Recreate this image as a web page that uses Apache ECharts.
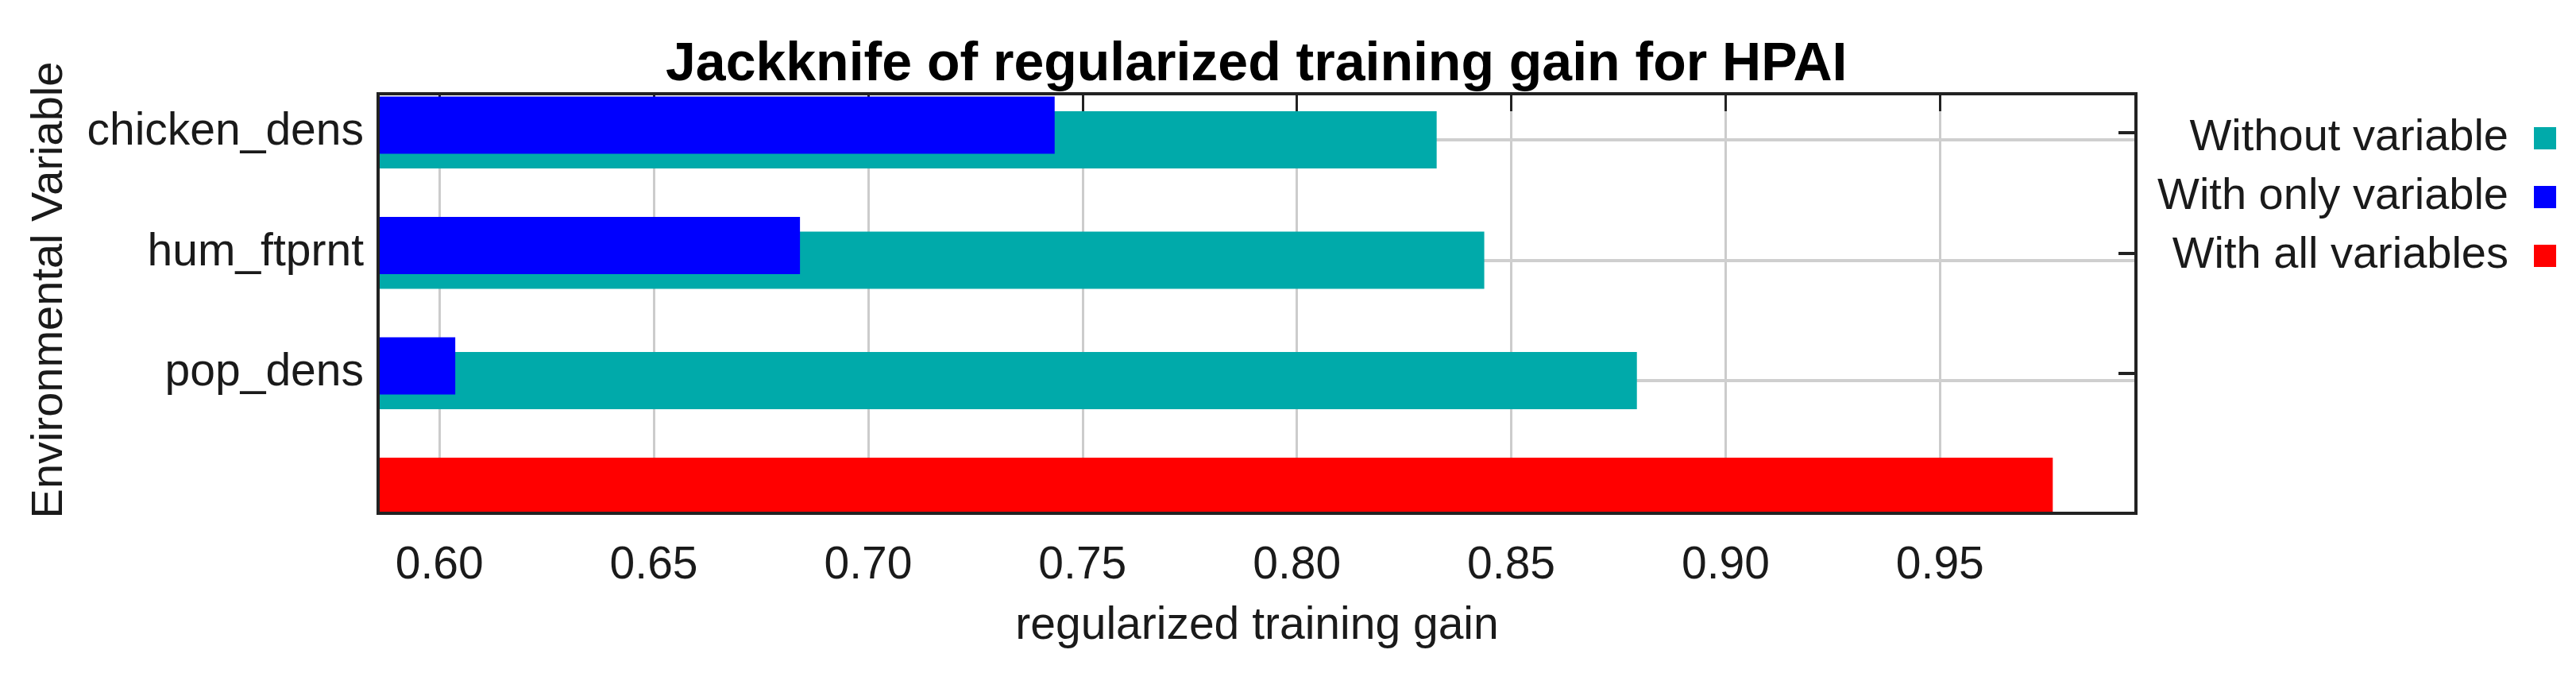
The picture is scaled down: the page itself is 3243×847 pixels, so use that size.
<!DOCTYPE html>
<html>
<head>
<meta charset="utf-8">
<title>Jackknife of regularized training gain for HPAI</title>
<script src="https://cdn.jsdelivr.net/npm/echarts@6/dist/echarts.min.js"></script>
<style>
  html, body { margin: 0; padding: 0; background: #fff; }
</style>
</head>
<body>
<div id="main" style="width:3243px;height:847px;"></div>
<script>
// values
const variables = ['chicken_dens', 'hum_ftprnt', 'pop_dens'];
const withoutVariable = [0.8326, 0.8437, 0.8793];
const withOnlyVariable = [0.7435, 0.6841, 0.6037];
const withAllVariables = 0.9763;
const legendNames = ['Without variable', 'With only variable', 'With all variables'];
const gainMin = 0.5857;
const gainMax = 0.9957;

const font = 'Liberation Sans';
const cats = variables.concat(['']);   // last row = all variables

let myChart = echarts.init(document.getElementById('main'));

let option = {
  backgroundColor: '#ffffff',
  animation: false,
  title: {
    text: 'Jackknife of regularized training gain for HPAI',
    left: 833,
    top: 43,
    textStyle: { fontFamily: font, fontSize: 68, fontWeight: 'bold', color: '#000' }
  },
  legend: {
    orient: 'vertical',
    right: 20,
    top: 141,
    align: 'right',
    icon: 'rect',
    itemWidth: 28,
    itemHeight: 28,
    itemGap: 18,
    data: legendNames,
    textStyle: { fontFamily: font, fontSize: 56, color: '#1a1a1a', padding: [0, 27, 0, 0] }
  },
  grid: [
    // framed plot area
    { left: 476, right: 554, top: 118, bottom: 201, show: true, borderColor: '#222', borderWidth: 4, z: 5 },
    // rows of bars
    { left: 476, right: 554, top: 91, bottom: 150 }
  ],
  xAxis: [
    {
      gridIndex: 0, type: 'value', min: gainMin, max: gainMax, splitNumber: 8, position: 'bottom',
      axisLine: { show: false },
      axisTick: { show: false },
      axisLabel: {
        fontFamily: font, fontSize: 57, color: '#1a1a1a', margin: 38,
        showMinLabel: false, showMaxLabel: false,
        formatter: v => v.toFixed(2)
      },
      splitLine: { show: true, lineStyle: { color: '#cccccc', width: 3 } },
      name: 'regularized training gain',
      nameLocation: 'middle',
      nameGap: 114,
      nameTextStyle: { fontFamily: font, fontSize: 57, color: '#1a1a1a' }
    },
    {
      gridIndex: 0, type: 'value', min: gainMin, max: gainMax, splitNumber: 8, position: 'top',
      axisLine: { show: false },
      axisTick: { show: true, inside: true, length: 22, lineStyle: { color: '#222', width: 3 } },
      axisLabel: { show: false },
      splitLine: { show: false }
    },
    { gridIndex: 1, type: 'value', min: gainMin, max: gainMax, show: false }
  ],
  yAxis: [
    {
      gridIndex: 0, type: 'value',
      axisLine: { show: false }, axisTick: { show: false }, axisLabel: { show: false }, splitLine: { show: false },
      name: 'Environmental Variable',
      nameLocation: 'middle',
      nameGap: 385,
      nameRotate: 90,
      nameTextStyle: { fontFamily: font, fontSize: 56, color: '#1a1a1a', padding: [0, 0, 0, 34] }
    },
    {
      gridIndex: 1, type: 'category', data: cats, inverse: true,
      axisLine: { show: false }, axisTick: { show: false }, splitLine: { show: false },
      axisLabel: { fontFamily: font, fontSize: 57, color: '#1a1a1a', margin: 18 }
    },
    {
      gridIndex: 1, type: 'category', data: cats, inverse: true, position: 'right',
      axisLine: { show: false }, axisLabel: { show: false }, splitLine: { show: false },
      axisTick: {
        show: true, inside: true, length: 22, alignWithLabel: true,
        interval: i => i < variables.length,
        lineStyle: { color: '#222', width: 4 }
      }
    }
  ],
  series: [
    {
      name: 'With only variable', type: 'bar', xAxisIndex: 2, yAxisIndex: 1,
      stack: 'own', barWidth: 72, barGap: '-74%', z: 3, clip: true,
      itemStyle: { color: '#0000ff' },
      data: withOnlyVariable.concat(['-'])
    },
    {
      name: 'With all variables', type: 'bar', xAxisIndex: 2, yAxisIndex: 1,
      stack: 'own', z: 3, clip: true,
      itemStyle: { color: '#ff0000' },
      data: variables.map(() => '-').concat([withAllVariables])
    },
    {
      name: 'Without variable', type: 'bar', xAxisIndex: 2, yAxisIndex: 1,
      barWidth: 72, barGap: '-74%', z: 2, clip: true,
      itemStyle: { color: '#00aaaa' },
      data: withoutVariable.concat(['-']),
      markLine: {
        silent: true, symbol: 'none', z: 1,
        label: { show: false },
        lineStyle: { color: '#cfcfcf', width: 4, type: 'solid' },
        data: variables.map((v, i) => ({ yAxis: i }))
      }
    }
  ]
};

myChart.setOption(option);
</script>
</body>
</html>
